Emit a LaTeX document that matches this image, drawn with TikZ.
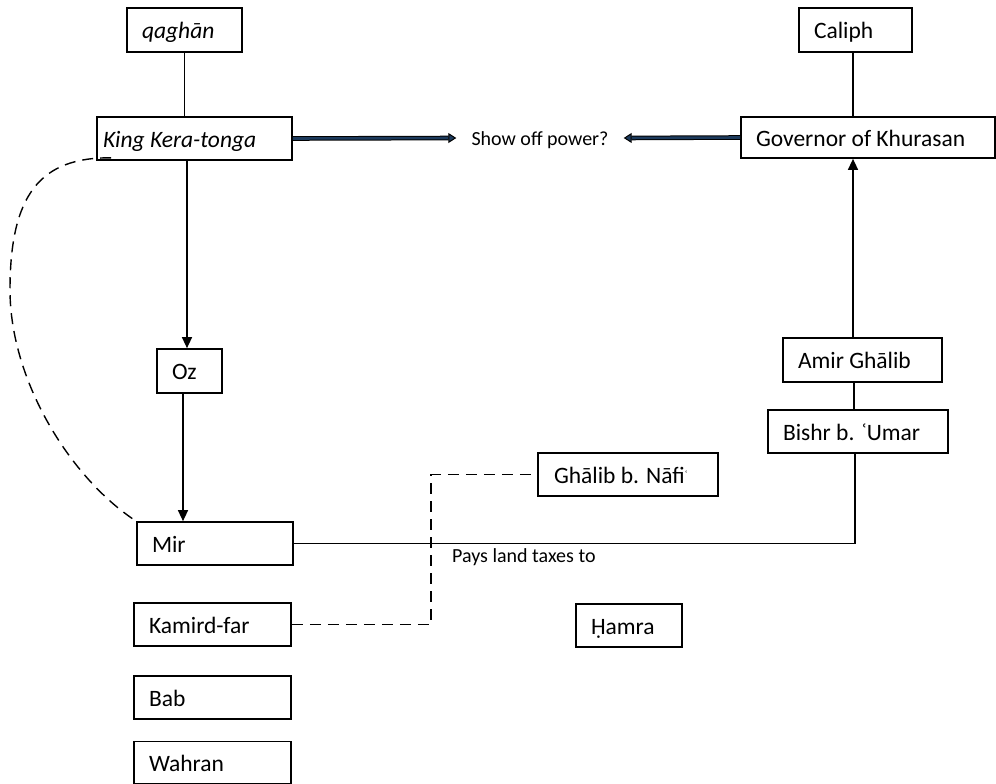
\documentclass[tikz,border=0pt]{standalone}
\usepackage{fontspec}
\setmainfont{Carlito}
\usetikzlibrary{arrows.meta}
\definecolor{navyc}{RGB}{28,58,92}
\begin{document}
\begin{tikzpicture}[x=1pt,y=-1pt,
  box/.style={draw, line width=1.7pt, minimum height=43pt, inner xsep=15pt, inner ysep=0pt,
    align=flush left, font=\fontsize{23.5}{27}\selectfont, text height=19pt, text depth=2pt},
  lbl/.style={font=\fontsize{20}{24}\selectfont, inner sep=0pt},
  conn/.style={line width=1.4pt},
  arr/.style={line width=1.4pt, -{Triangle[length=11pt,width=10pt]}},
  dashconn/.style={line width=1.4pt, dash pattern=on 11pt off 7pt},
  showarrow/.style={line width=1pt, double=navyc, double distance=2.6pt, -{Triangle[length=8pt,width=10pt,fill=navyc]}}
]
\useasboundingbox (0,0) rectangle (996,784);

\node[box, text width=85pt, minimum height=44pt] (qaghan) at (184.5,30) {\itshape qaghān};
\node[box, text width=183pt, inner xsep=6pt] (king) at (194.5,138.5) {\itshape King Kera-tonga};
\node[box, text width=35pt, minimum height=44pt] (oz) at (189.5,371) {Oz};
\node[box, text width=126pt] (mir) at (215,543.5) {Mir};
\node[box, text width=127pt] (kamird) at (212.5,624.5) {Kamird-far};
\node[box, text width=127pt] (bab) at (212.5,697.5) {Bab};
\node[box, text width=127pt, minimum height=42pt] (wahran) at (212.5,762.5) {Wahran};

\node[box, text width=83pt, minimum height=44pt] (caliph) at (855.5,30) {Caliph};
\node[box, text width=224pt, minimum height=41pt] (gov) at (868,137.5) {Governor of Khurasan};
\node[box, text width=129pt, minimum height=44pt] (amir) at (862.5,360) {Amir Ghālib};
\node[box, text width=150pt] (bishr) at (858,431.5) {Bishr b. ʿUmar};
\node[box, text width=148pt, inner xsep=16pt] (ghalib) at (628,474.5) {Ghālib b. Nāfi\raisebox{4pt}{\fontsize{12}{12}\selectfont ʿ}};
\node[box, text width=76pt] (hamra) at (629,625.5) {Ḥamra};

\node[lbl, inner xsep=15pt, text height=14pt, text depth=0pt] (show) at (540,138) {Show off power?};
\node[lbl, anchor=base west] (pays) at (452,562) {Pays land taxes to};

% connectors
\draw[conn] (qaghan.south) -- (qaghan.south |- king.north);
\draw[arr] ([xshift=-2.5pt]oz.north |- king.south) -- ([xshift=-2.5pt]oz.north);
\draw[arr] ([xshift=-6.5pt]oz.south) -- ([xshift=-6.5pt]oz.south |- mir.north);
\draw[conn] (mir.east) -- ([xshift=-3pt]bishr.south |- mir.east) -- ([xshift=-3pt]bishr.south);
\draw[conn] ([xshift=-4pt]bishr.north) -- ([xshift=-4pt]bishr.north |- amir.south);
\draw[arr] ([xshift=-9.5pt]amir.north) -- ([xshift=-9.5pt]amir.north |- gov.south);
\draw[conn] ([xshift=-2.5pt]caliph.south) -- ([xshift=-2.5pt]caliph.south |- gov.north);
\draw[dashconn] (kamird.east) -- ++(139,0) |- (ghalib.west);
\draw[dashconn] ([xshift=15pt,yshift=3pt]king.south west)
   .. controls (40,157) and (10,195) .. (10,290)
   .. controls (10,380) and (70,478) .. (mir.north west);
\draw[showarrow] (king.east) -- (show.west);
\draw[showarrow] (gov.west) -- (show.east);
\end{tikzpicture}
\end{document}
